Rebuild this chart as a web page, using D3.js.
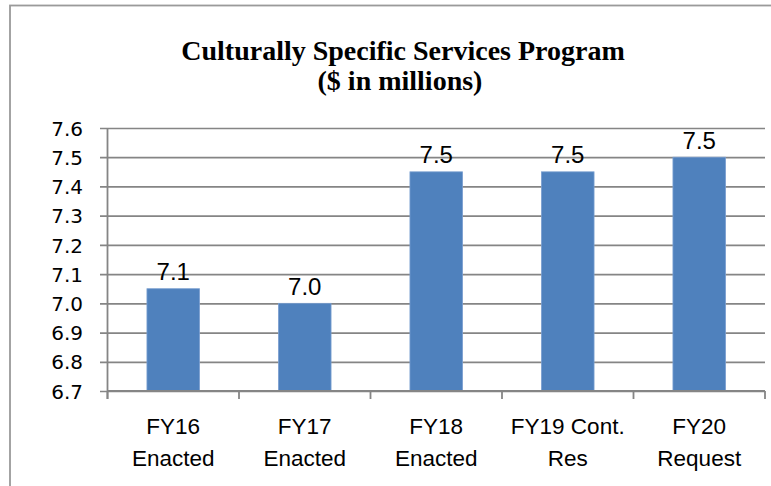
<!DOCTYPE html>
<html>
<head>
<meta charset="utf-8">
<script src="https://cdn.jsdelivr.net/npm/d3@7"></script>
<style>
  html, body { margin: 0; padding: 0; background: #fff; }
  svg { display: block; }
</style>
</head>
<body>
<svg id="chart" width="771" height="486"></svg>
<script>
const titleLines = ["Culturally Specific Services Program", "($ in millions)"];
const categories = ["FY16 Enacted", "FY17 Enacted", "FY18 Enacted", "FY19 Cont. Res", "FY20 Request"];
const categoryLines = [["FY16", "Enacted"], ["FY17", "Enacted"], ["FY18", "Enacted"], ["FY19 Cont.", "Res"], ["FY20", "Request"]];
const values = [7.05, 7.00, 7.45, 7.45, 7.50];
const valueLabels = ["7.1", "7.0", "7.5", "7.5", "7.5"];
const yTicks = [6.7, 6.8, 6.9, 7.0, 7.1, 7.2, 7.3, 7.4, 7.5, 7.6];

const svg = d3.select("#chart");

// outer chart border (right/bottom edges fall outside the picture)
svg.append("rect")
  .attr("x", 10).attr("y", 5.5)
  .attr("width", 800).attr("height", 500)
  .attr("fill", "#fff")
  .attr("stroke", "#9a9a9a").attr("stroke-width", 1.8);

const plot = { left: 107.5, right: 765, top: 128, bottom: 391 };

const x = d3.scaleBand().domain(categories)
  .range([plot.left, plot.right]).paddingInner(0.6).paddingOuter(0.3);
const y = d3.scaleLinear().domain([6.7, 7.6]).range([plot.bottom, plot.top]);

// title
const title = svg.append("text")
  .attr("text-anchor", "middle")
  .attr("font-family", "'Liberation Serif', 'Times New Roman', serif")
  .attr("font-weight", "bold")
  .attr("fill", "#000");
title.append("tspan").attr("x", 403).attr("y", 60)
  .attr("font-size", 28).text(titleLines[0]);
title.append("tspan").attr("x", 400).attr("y", 90)
  .attr("font-size", 28).text(titleLines[1]);

// gridlines + y axis ticks
const yAxis = d3.axisLeft(y).tickValues(yTicks)
  .tickSize(plot.right - plot.left + 7.5)
  .tickFormat(d3.format(".1f"));
const gy = svg.append("g")
  .attr("transform", `translate(${plot.right},0)`)
  .call(yAxis);
gy.select(".domain").remove();
gy.selectAll(".tick line").attr("stroke", "#858585").attr("stroke-width", 1.7);
gy.selectAll(".tick text")
  .attr("x", -(plot.right - plot.left) - 24.5)
  .attr("dy", "0.36em")
  .attr("font-family", "'DejaVu Sans', sans-serif")
  .attr("font-size", 20)
  .attr("fill", "#000");

// vertical axis line
svg.append("line")
  .attr("x1", plot.left).attr("x2", plot.left)
  .attr("y1", plot.top).attr("y2", plot.bottom + 8)
  .attr("stroke", "#858585").attr("stroke-width", 1.8);

// bars
svg.append("g").selectAll("rect")
  .data(values)
  .join("rect")
  .attr("x", (d, i) => x(categories[i]))
  .attr("width", x.bandwidth())
  .attr("y", d => y(d))
  .attr("height", d => y(6.7) - y(d))
  .attr("fill", "#4f81bd")
  .attr("stroke", "#7a9fd0")
  .attr("stroke-width", 0.8);

// x axis line and category boundary ticks
const step = x.step();
svg.append("line")
  .attr("x1", plot.left).attr("x2", plot.right)
  .attr("y1", plot.bottom).attr("y2", plot.bottom)
  .attr("stroke", "#858585").attr("stroke-width", 1.8);
const bounds = d3.range(categories.length + 1).map(i => plot.left + i * step);
svg.append("g").selectAll("line")
  .data(bounds)
  .join("line")
  .attr("x1", d => d).attr("x2", d => d)
  .attr("y1", plot.bottom).attr("y2", plot.bottom + 8)
  .attr("stroke", "#858585").attr("stroke-width", 1.8);

// data labels
svg.append("g").selectAll("text")
  .data(values)
  .join("text")
  .attr("x", (d, i) => x(categories[i]) + x.bandwidth() / 2)
  .attr("y", d => y(d) - 8.5)
  .attr("text-anchor", "middle")
  .attr("font-family", "'Liberation Sans', Arial, sans-serif")
  .attr("font-size", 24)
  .attr("fill", "#000")
  .text((d, i) => valueLabels[i]);

// category labels
const cl = svg.append("g").selectAll("text")
  .data(categoryLines)
  .join("text")
  .attr("text-anchor", "middle")
  .attr("font-family", "'Liberation Sans', Arial, sans-serif")
  .attr("font-size", 22.5)
  .attr("fill", "#000");
cl.each(function(lines, i) {
  const cx = x(categories[i]) + x.bandwidth() / 2;
  lines.forEach((t, j) => {
    d3.select(this).append("tspan")
      .attr("x", cx).attr("y", 434 + j * 31.5).text(t);
  });
});
</script>
</body>
</html>
